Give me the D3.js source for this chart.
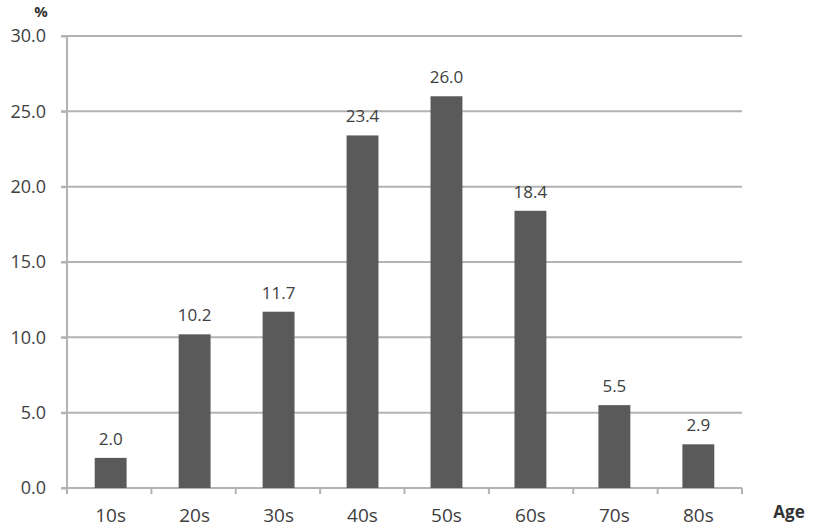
<!DOCTYPE html>
<html>
<head>
<meta charset="utf-8">
<script src="https://cdn.jsdelivr.net/npm/d3@7"></script>
<style>
  body { margin: 0; background: #fff; }
  text { font-family: "Open Sans", "Noto Sans", sans-serif; }
</style>
</head>
<body>
<svg width="814" height="529"></svg>
<script>
let ages = ["10s", "20s", "30s", "40s", "50s", "60s", "70s", "80s"];
let shares = [2.0, 10.2, 11.7, 23.4, 26.0, 18.4, 5.5, 2.9];
let yTicks = [0, 5, 10, 15, 20, 25, 30];

let svg = d3.select("svg"),
    margin = {top: 36, right: 72, bottom: 41, left: 67},
    width = svg.attr("width") - margin.left - margin.right,
    height = svg.attr("height") - margin.top - margin.bottom,
    g = svg.append("g").attr("transform", "translate(" + margin.left + "," + margin.top + ")");

let x = d3.scaleBand().domain(ages).range([0, width]).paddingInner(0.62).paddingOuter(0.33),
    xs = d3.scaleBand().domain(ages).range([0, width]),
    y = d3.scaleLinear().domain([0, 30]).range([height, 0]);

// gridlines
g.selectAll(".grid")
    .data(yTicks)
    .enter().append("line")
    .attr("x1", -6)
    .attr("x2", width)
    .attr("y1", function(d) { return y(d); })
    .attr("y2", function(d) { return y(d); })
    .attr("stroke", "#b3b3b3")
    .attr("stroke-width", 2);

// y axis
let yAxis = g.append("g")
    .call(d3.axisLeft(y).tickValues(yTicks).tickFormat(d3.format(".1f")).tickSize(6).tickPadding(15));
yAxis.select(".domain").remove();
yAxis.selectAll("line").attr("stroke", "#b3b3b3").attr("stroke-width", 2);
yAxis.selectAll("text").attr("fill", "#404040").style("font-size", "18px").style("font-family", "'Open Sans', sans-serif");

g.append("line")
    .attr("x1", 0).attr("x2", 0)
    .attr("y1", 0).attr("y2", height)
    .attr("stroke", "#b3b3b3").attr("stroke-width", 2);

// x axis ticks at category boundaries
let bounds = ages.map(function(a) { return xs(a); }).concat([width]);
g.selectAll(".xtick")
    .data(bounds)
    .enter().append("line")
    .attr("x1", function(d) { return d; })
    .attr("x2", function(d) { return d; })
    .attr("y1", height)
    .attr("y2", height + 6)
    .attr("stroke", "#b3b3b3").attr("stroke-width", 2);

g.selectAll(".xlabel")
    .data(ages)
    .enter().append("text")
    .attr("x", function(d) { return x(d) + x.bandwidth() / 2; })
    .attr("y", height + 34)
    .attr("text-anchor", "middle")
    .attr("fill", "#404040")
    .style("font-size", "19px")
    .text(function(d) { return d; });

// bars
g.selectAll(".bar")
    .data(ages)
    .enter().append("rect")
    .attr("x", function(d) { return x(d); })
    .attr("width", x.bandwidth())
    .attr("y", function(d, i) { return y(shares[i]); })
    .attr("height", function(d, i) { return height - y(shares[i]); })
    .attr("fill", "#5a5a5a");

g.selectAll(".value")
    .data(ages)
    .enter().append("text")
    .attr("x", function(d) { return x(d) + x.bandwidth() / 2; })
    .attr("y", function(d, i) { return y(shares[i]) - 13; })
    .attr("text-anchor", "middle")
    .attr("fill", "#404040")
    .style("font-size", "17px")
    .text(function(d, i) { return d3.format(".1f")(shares[i]); });

// axis titles
svg.append("text")
    .attr("x", 41).attr("y", 17)
    .attr("text-anchor", "middle")
    .attr("fill", "#333")
    .style("font-size", "15px").style("font-weight", "bold")
    .text("%");

svg.append("text")
    .attr("x", 789).attr("y", 518)
    .attr("text-anchor", "middle")
    .attr("fill", "#333")
    .style("font-size", "17px").style("font-weight", "bold")
    .text("Age");
</script>
</body>
</html>
